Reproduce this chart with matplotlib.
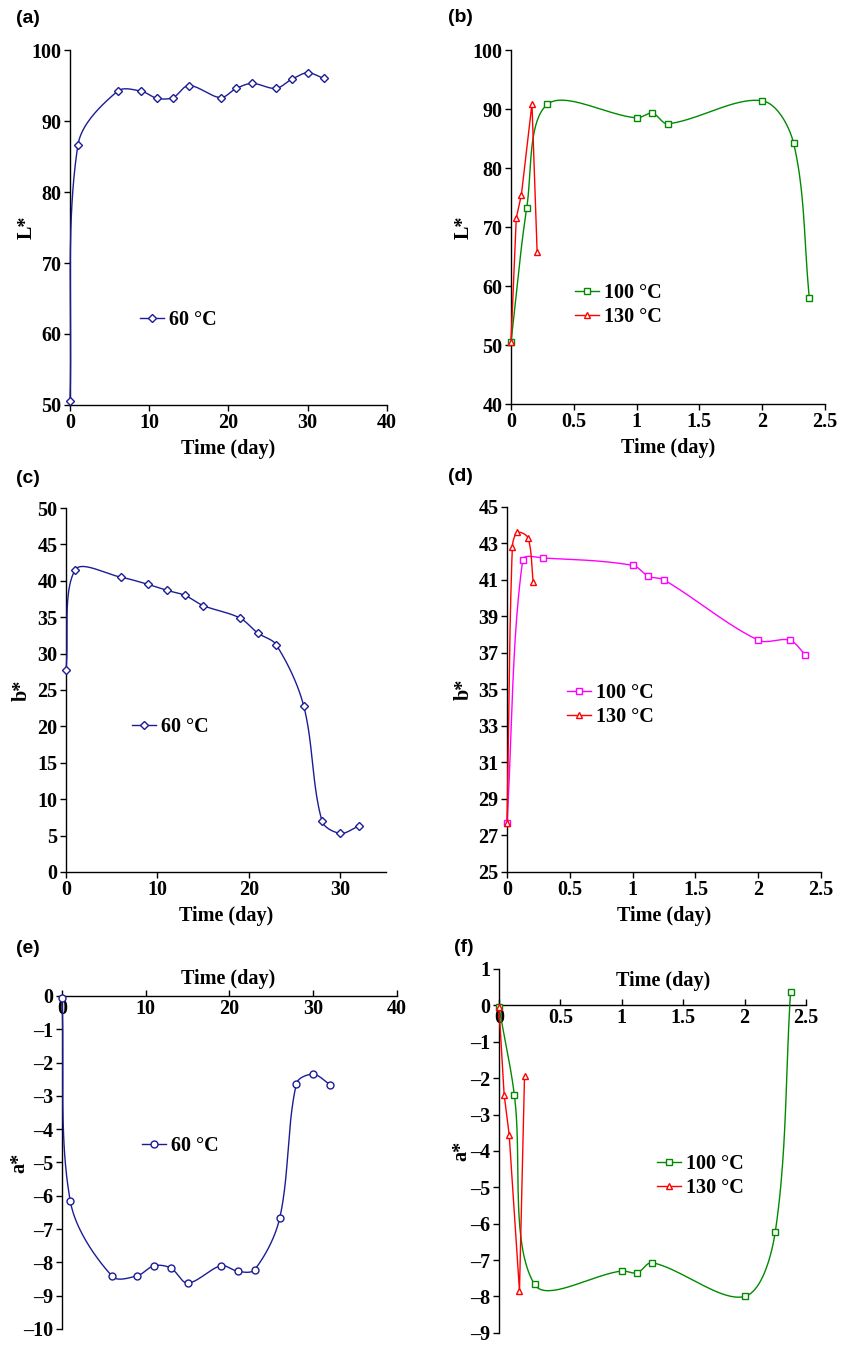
import numpy as np
import matplotlib
matplotlib.use("Agg")
import matplotlib.pyplot as plt
from matplotlib.lines import Line2D

# Daten
tag_60 = [0, 1, 6, 9, 11, 13, 15, 19, 21, 23, 26, 28, 30, 32]
L_60 = [50.5, 86.6, 94.2, 94.2, 93.2, 93.3, 95.0, 93.3, 94.6, 95.3, 94.6, 95.9, 96.8, 96.0]
b_60 = [27.7, 41.5, 40.5, 39.5, 38.7, 38.0, 36.6, 34.9, 32.8, 31.2, 22.8, 7.0, 5.3, 6.3]
a_60 = [-0.05, -6.17, -8.42, -8.40, -8.10, -8.17, -8.62, -8.10, -8.27, -8.22, -6.67, -2.63, -2.35, -2.66]

tag_100 = [0, 0.125, 0.29, 1.0, 1.125, 1.25, 2.0, 2.25, 2.375]
L_100 = [50.5, 73.2, 90.8, 88.5, 89.3, 87.5, 91.4, 84.2, 58.0]
b_100 = [27.7, 42.1, 42.2, 41.8, 41.2, 41.0, 37.7, 37.7, 36.9]
a_100 = [-0.05, -2.45, -7.67, -7.30, -7.35, -7.07, -8.00, -6.23, 0.38]

tag_130 = [0, 0.042, 0.083, 0.167, 0.208]
L_130 = [50.5, 71.5, 75.5, 90.9, 65.8]
b_130 = [27.7, 42.8, 43.6, 43.3, 40.9]
a_130 = [-0.05, -2.45, -3.55, -7.85, -1.95]

BLAU = '#1c1c96'
GRUEN = '#008a00'
MAGENTA = '#ff00ff'
ROT = '#ff0000'

FS = 14.5
plt.rcParams['font.family'] = 'Liberation Serif'
plt.rcParams['font.weight'] = 'bold'
plt.rcParams['font.size'] = FS
plt.rcParams['axes.labelweight'] = 'bold'


def glatt(ax, x, y, n=40):
    # geglaettete Linie wie in Excel, im Bildschirm-Koordinatensystem berechnet
    pts = ax.transData.transform(np.column_stack([x, y]))
    P = np.vstack([pts[0], pts, pts[-1]])
    t = np.linspace(0, 1, n)[:, None]
    teile = []
    for i in range(1, len(P) - 2):
        p0, p1 = P[i], P[i + 1]
        d_vor = np.linalg.norm(P[i] - P[i - 1])
        d = np.linalg.norm(p1 - p0)
        d_nach = np.linalg.norm(P[i + 2] - P[i + 1])
        T0 = P[i + 1] - P[i - 1]
        T1 = P[i + 2] - P[i]
        f0 = d / (d_vor + d) if d_vor + d > 0 else 0
        f1 = d / (d + d_nach) if d + d_nach > 0 else 0
        c1 = p0 + T0 * f0 / 3
        c2 = p1 - T1 * f1 / 3
        b = (1 - t) ** 3 * p0 + 3 * (1 - t) ** 2 * t * c1 + 3 * (1 - t) * t ** 2 * c2 + t ** 3 * p1
        teile.append(b)
    kurve = ax.transData.inverted().transform(np.vstack(teile))
    return kurve[:, 0], kurve[:, 1]


def reihe(ax, x, y, farbe, marker, smooth=True):
    ms = 4.3 if marker == 'D' else 5
    if smooth:
        sx, sy = glatt(ax, x, y)
    else:
        sx, sy = x, y
    ax.plot(sx, sy, color=farbe, lw=1.0, clip_on=False, zorder=3)
    ax.plot(x, y, ls='none', marker=marker, ms=ms, mfc='white', mec=farbe, mew=1.0,
            clip_on=False, zorder=4)
    return Line2D([], [], color=farbe, lw=1.0, marker=marker, ms=ms, mfc='white', mec=farbe, mew=1.0)


def stil(ax, xlim, xticks, ylim, yticks, ylabel, ylab_x):
    ax.set_xlim(*xlim)
    ax.set_ylim(*ylim)
    ax.set_xticks(xticks)
    ax.set_yticks(yticks)
    ax.set_xticklabels([('%g' % v) for v in xticks])
    ax.set_yticklabels([('%g' % v).replace('-', '\u2013') for v in yticks])
    for s in ['top', 'right']:
        ax.spines[s].set_visible(False)
    for s in ['left', 'bottom']:
        ax.spines[s].set_linewidth(1.0)
    ax.tick_params(length=4, width=1.0, pad=2, labelsize=FS)
    ax.set_ylabel(ylabel)
    ax.yaxis.set_label_coords(ylab_x, 0.5)
    ax.patch.set_alpha(0)


def legende(ax, handles, labels, x, y):
    ax.legend(handles, labels, loc='center left', bbox_to_anchor=(x, y), frameon=False,
              borderpad=0, borderaxespad=0, handlelength=1.2, handletextpad=0.25,
              labelspacing=0.2, fontsize=FS)


fig = plt.figure(figsize=(8.41, 13.45), dpi=100)

# (a)
ax = fig.add_axes([0.0832, 0.6989, 0.3769, 0.2639])
stil(ax, (0, 40), [0, 10, 20, 30, 40], (50, 100), [50, 60, 70, 80, 90, 100], 'L*', -0.104)
h = reihe(ax, tag_60, L_60, BLAU, 'D')
ax.set_xlabel('Time (day)', labelpad=4)
legende(ax, [h], ['60 \u00b0C'], 0.22, 0.24)

# (b)
ax = fig.add_axes([0.6076, 0.6996, 0.3734, 0.2632])
stil(ax, (0, 2.5), [0, 0.5, 1, 1.5, 2, 2.5], (40, 100), [40, 50, 60, 70, 80, 90, 100], 'L*', -0.118)
h1 = reihe(ax, tag_100, L_100, GRUEN, 's')
h2 = reihe(ax, tag_130, L_130, ROT, '^', smooth=False)
ax.set_xlabel('Time (day)', labelpad=4)
legende(ax, [h1, h2], ['100 \u00b0C', '130 \u00b0C'], 0.204, 0.28)

# (c)
ax = fig.add_axes([0.0785, 0.3517, 0.3805, 0.2706])
stil(ax, (0, 35), [0, 10, 20, 30], (0, 50), list(range(0, 51, 5)), 'b*', -0.106)
h = reihe(ax, tag_60, b_60, BLAU, 'D')
ax.set_xlabel('Time (day)', labelpad=4)
legende(ax, [h], ['60 \u00b0C'], 0.206, 0.398)

# (d)
ax = fig.add_axes([0.6029, 0.3517, 0.3734, 0.2714])
stil(ax, (0, 2.5), [0, 0.5, 1, 1.5, 2, 2.5], (25, 45), list(range(25, 46, 2)), 'b*', -0.105)
h1 = reihe(ax, tag_100, b_100, MAGENTA, 's')
h2 = reihe(ax, tag_130, b_130, ROT, '^')
ax.set_xlabel('Time (day)', labelpad=4)
legende(ax, [h1, h2], ['100 \u00b0C', '130 \u00b0C'], 0.19, 0.457)

# (e)
ax = fig.add_axes([0.0737, 0.0119, 0.3983, 0.2476])
stil(ax, (0, 40), [0, 10, 20, 30, 40], (-10, 0), list(range(-10, 1)), 'a*', -0.096)
ax.spines['bottom'].set_position(('data', 0))
ax.tick_params(axis='x', direction='in')
h = reihe(ax, tag_60, a_60, BLAU, 'o')
ax.set_xlabel('Time (day)', va='center')
ax.xaxis.set_label_coords(0.497, 1.05)
legende(ax, [h], ['60 \u00b0C'], 0.239, 0.55)

# (f)
ax = fig.add_axes([0.5933, 0.0090, 0.3650, 0.2706])
stil(ax, (0, 2.5), [0, 0.5, 1, 1.5, 2, 2.5], (-9, 1), list(range(-9, 2)), 'a*', -0.091)
ax.spines['bottom'].set_position(('data', 0))
ax.tick_params(axis='x', direction='in')
h1 = reihe(ax, tag_100, a_100, GRUEN, 's')
h2 = reihe(ax, tag_130, a_130, ROT, '^', smooth=False)
ax.set_xlabel('Time (day)', va='center')
ax.xaxis.set_label_coords(0.534, 0.967)
legende(ax, [h1, h2], ['100 \u00b0C', '130 \u00b0C'], 0.515, 0.43)

# Teilbild-Beschriftungen
for lab, (px, py) in zip(['(a)', '(b)', '(c)', '(d)', '(e)', '(f)'],
                         [(16, 10), (448, 9), (16, 470), (448, 468), (16, 940), (454, 939)]):
    fig.text(px / 841, 1 - py / 1345, lab, ha='left', va='top', fontsize=14,
             fontweight='bold', fontfamily='Liberation Sans')

fig.savefig('out.png', dpi=100)
